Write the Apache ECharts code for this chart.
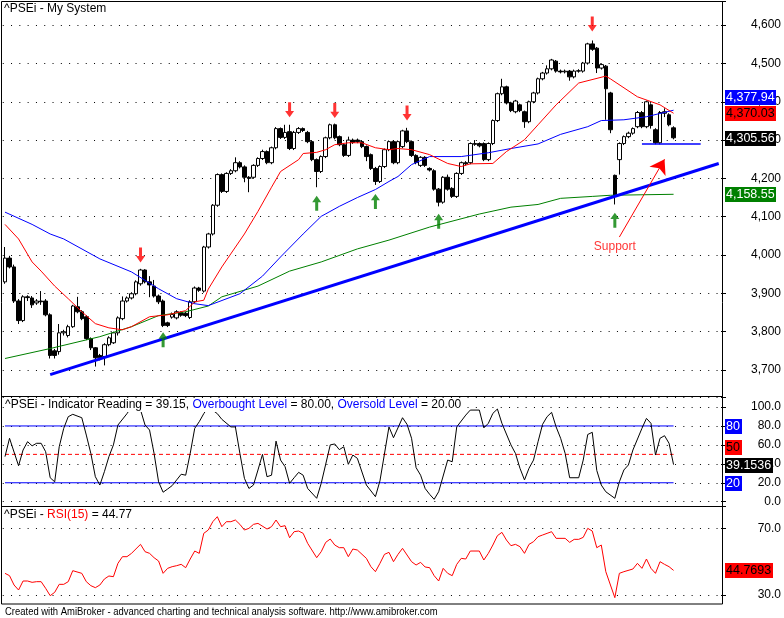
<!DOCTYPE html>
<html lang="en">
  <head>
    <meta charset="UTF-8" />
    <title>^PSEi - My System</title>
    <script src="https://cdn.jsdelivr.net/npm/echarts@6.0.0/dist/echarts.min.js"></script>
    <style>
      html, body { margin: 0; padding: 0; background: #fff; }
    </style>
  </head>
  <body>
    <div id="main" style="width: 784px; height: 618px"></div>
    <script type="text/javascript">
      // daily bars (149 bars)
      const opens = [
        3930, 3992, 3969, 3880, 3829, 3891, 3888, 3875, 3880, 3880,
        3844, 3750, 3748, 3797, 3790, 3813, 3865, 3852, 3839, 3782,
        3758, 3738, 3735, 3766, 3771, 3797, 3834, 3880, 3888, 3899,
        3925, 3961, 3930, 3919, 3893, 3880, 3823, 3838, 3836, 3850,
        3848, 3837, 3878, 3914, 3906, 4021, 4055, 4130, 4210, 4166,
        4213, 4220, 4241, 4230, 4203, 4203, 4234, 4252, 4270, 4241,
        4280, 4330, 4307, 4322, 4278, 4320, 4330, 4320, 4296, 4249,
        4218, 4257, 4306, 4340, 4309, 4288, 4260, 4300, 4300, 4296,
        4283, 4262, 4226, 4192, 4231, 4275, 4296, 4241, 4283, 4324,
        4296, 4260, 4234, 4255, 4226, 4220, 4172, 4138, 4203, 4174,
        4153, 4213, 4241, 4241, 4291, 4291, 4291, 4249, 4291, 4351,
        4421, 4439, 4397, 4374, 4392, 4374, 4348, 4400, 4423, 4460,
        4475, 4486, 4506, 4480, 4478, 4480, 4465, 4480, 4480, 4501,
        4551, 4540, 4488, 4493, 4423, 4208, 4249, 4291, 4309, 4318,
        4335, 4372, 4335, 4392, 4327, 4293, 4370, 4366, 4332
      ];
      const closes = [
        3992, 3969, 3880, 3829, 3891, 3889, 3870, 3880, 3878, 3844,
        3738, 3738, 3797, 3800, 3813, 3867, 3852, 3834, 3782, 3758,
        3732, 3732, 3766, 3784, 3797, 3836, 3880, 3888, 3899, 3930,
        3961, 3930, 3922, 3893, 3878, 3816, 3816, 3845, 3852, 3843,
        3842, 3878, 3914, 3908, 4021, 4055, 4130, 4210, 4166, 4213,
        4220, 4241, 4230, 4203, 4200, 4234, 4252, 4270, 4241, 4280,
        4330, 4307, 4320, 4278, 4320, 4330, 4325, 4296, 4249, 4218,
        4257, 4306, 4340, 4306, 4288, 4260, 4300, 4294, 4296, 4283,
        4257, 4226, 4192, 4231, 4275, 4296, 4241, 4296, 4324, 4296,
        4260, 4241, 4255, 4234, 4222, 4172, 4138, 4203, 4172, 4153,
        4213, 4241, 4238, 4291, 4289, 4285, 4249, 4291, 4351, 4421,
        4439, 4397, 4377, 4402, 4377, 4348, 4400, 4423, 4460, 4475,
        4486, 4509, 4480, 4478, 4480, 4465, 4480, 4481, 4501, 4551,
        4537, 4488, 4497, 4434, 4327, 4153, 4291, 4309, 4318, 4330,
        4372, 4335, 4400, 4338, 4293, 4372, 4374, 4340, 4306
      ];
      const lows = [
        3925, 3965, 3875, 3820, 3825, 3880, 3862, 3870, 3870, 3840,
        3730, 3730, 3740, 3790, 3785, 3810, 3848, 3830, 3778, 3752,
        3709, 3725, 3712, 3762, 3768, 3790, 3830, 3876, 3884, 3895,
        3920, 3926, 3890, 3889, 3872, 3812, 3812, 3834, 3832, 3839,
        3838, 3833, 3874, 3904, 3902, 4017, 4051, 4126, 4162, 4162,
        4209, 4216, 4226, 4190, 4164, 4199, 4230, 4248, 4237, 4237,
        4276, 4303, 4303, 4274, 4274, 4316, 4321, 4292, 4245, 4177,
        4214, 4253, 4302, 4302, 4284, 4256, 4256, 4290, 4292, 4279,
        4245, 4222, 4183, 4188, 4227, 4271, 4237, 4237, 4279, 4292,
        4256, 4237, 4230, 4230, 4218, 4168, 4127, 4134, 4168, 4149,
        4149, 4209, 4234, 4237, 4285, 4281, 4245, 4245, 4287, 4347,
        4417, 4393, 4373, 4370, 4373, 4332, 4344, 4396, 4419, 4456,
        4471, 4482, 4476, 4474, 4474, 4455, 4461, 4476, 4476, 4497,
        4533, 4475, 4484, 4353, 4318, 4132, 4210, 4287, 4305, 4314,
        4331, 4331, 4331, 4330, 4289, 4289, 4360, 4336, 4302
      ];
      const highs = [
        4021, 3998, 3975, 3885, 3895, 3895, 3893, 3885, 3906, 3885,
        3848, 3755, 3820, 3805, 3818, 3870, 3891, 3856, 3843, 3785,
        3760, 3742, 3770, 3788, 3800, 3840, 3892, 3892, 3903, 3934,
        3964, 3963, 3945, 3935, 3897, 3884, 3826, 3850, 3856, 3853,
        3852, 3882, 3918, 3917, 4024, 4058, 4133, 4213, 4213, 4216,
        4224, 4255, 4245, 4234, 4206, 4237, 4255, 4275, 4273, 4283,
        4334, 4333, 4340, 4340, 4324, 4334, 4333, 4324, 4300, 4252,
        4260, 4309, 4343, 4343, 4312, 4291, 4309, 4304, 4304, 4300,
        4286, 4265, 4230, 4234, 4278, 4299, 4300, 4299, 4327, 4332,
        4299, 4263, 4258, 4258, 4229, 4224, 4175, 4206, 4210, 4177,
        4216, 4244, 4245, 4294, 4300, 4294, 4294, 4294, 4354, 4424,
        4460, 4442, 4400, 4405, 4395, 4377, 4403, 4426, 4463, 4478,
        4495, 4512, 4509, 4484, 4484, 4483, 4484, 4485, 4504, 4554,
        4560, 4543, 4500, 4496, 4426, 4210, 4294, 4312, 4322, 4333,
        4376, 4376, 4403, 4396, 4331, 4376, 4383, 4370, 4336
      ];

      // moving averages, [bar, value] at the turning points
      const maFast = [
        [0, 4080], [3, 4042], [6, 3982], [8, 3958], [11, 3919], [14, 3886], [17, 3852],
        [20, 3821], [23, 3810], [26, 3805], [28, 3813], [32, 3839], [36, 3844], [40, 3855],
        [42, 3878], [44, 3882], [45, 3911], [48, 3969], [53, 4055], [56, 4114], [59, 4177],
        [61, 4218], [65, 4249], [66, 4265], [69, 4268], [71, 4275], [73, 4288], [76, 4293],
        [79, 4293], [82, 4280], [85, 4275], [87, 4278], [90, 4275], [94, 4262], [98, 4239],
        [101, 4231], [103, 4238], [108, 4239], [111, 4270], [114, 4293], [115, 4301],
        [118, 4340], [122, 4392], [127, 4449], [133, 4467], [134, 4460], [140, 4413],
        [145, 4392], [148, 4370]
      ];
      const maMid = [
        [0, 4112], [6, 4080], [10, 4055], [13, 4042], [21, 3990], [28, 3956], [34, 3912],
        [38, 3886], [42, 3873], [45, 3868], [52, 3899], [57, 3945], [61, 3995], [66, 4055],
        [70, 4101], [74, 4127], [78, 4150], [82, 4171], [85, 4192], [87, 4205], [90, 4236],
        [94, 4257], [101, 4257], [107, 4267], [112, 4278], [118, 4290], [123, 4315],
        [129, 4335], [132, 4351], [137, 4353], [142, 4361], [148, 4378]
      ];
      const maSlow = [
        [0, 3730], [10, 3756], [21, 3787], [28, 3813], [34, 3842], [40, 3852], [45, 3867],
        [48, 3891], [56, 3919], [63, 3958], [70, 3982], [78, 4016], [85, 4039], [94, 4073],
        [105, 4107], [112, 4125], [118, 4132], [123, 4148], [130, 4153], [134, 4156],
        [148, 4158.55]
      ];
      const trendLine = [[10, 3688], [158, 4239]];
      const supportLine = [[141, 4290], [154, 4290]];
      const sellArrows = [[30, 4000], [63, 4379], [73, 4377], [89, 4371], [130, 4603]];
      const buyArrows = [[35, 3779], [69, 4135], [82, 4140], [96, 4088], [135, 4091]];
      const supportArrow = [[136, 4047], [146, 4250]];
      const supportText = [135, 4023];

      // indicator reading, [bar, value]
      const indicator = [
        [0, 47.6], [1, 67], [3, 38], [4, 54.6], [5, 63.4], [6, 59], [7, 61.7], [8, 61.7],
        [9, 52.8], [10, 25.3], [11, 21], [12, 58], [13, 77.5], [14, 89.8], [15, 92.3],
        [17, 88.7], [18, 70.4], [19, 51], [20, 26.4], [21, 17.6], [22, 31.7], [23, 47.5],
        [24, 60], [25, 81], [27, 93], [28, 100], [30, 97], [31, 81], [32, 75.7], [33, 51],
        [34, 21], [35, 10], [36, 13.4], [37, 17], [38, 23], [39, 29], [40, 28], [41, 51],
        [42, 77.5], [43, 84.5], [44, 93], [45, 100], [47, 93], [48, 87], [50, 79], [51, 79],
        [52, 51], [53, 24.7], [54, 14], [55, 17.6], [56, 33.5], [57, 50], [58, 26.4],
        [59, 28], [60, 64], [61, 44], [62, 37], [63, 19.4], [64, 25.3], [65, 31], [66, 28],
        [67, 14], [69, 3.6], [70, 19.4], [72, 60], [73, 61], [74, 55], [75, 58], [76, 39.5],
        [77, 49.3], [78, 45.8], [80, 17.6], [82, 5.3], [83, 22], [85, 79], [86, 67.6],
        [88, 88.7], [89, 81.7], [90, 67], [91, 36], [92, 28], [93, 14], [94, 7.8], [95, 2.5],
        [96, 10.5], [98, 44], [99, 42.2], [100, 79], [102, 91.5], [103, 96.8], [105, 96.8],
        [106, 78], [107, 82.8], [108, 93.3], [109, 97.9], [110, 82.8], [112, 60], [113, 51],
        [114, 35.3], [115, 23], [116, 35.3], [117, 44], [118, 63.4], [119, 81.7], [120, 89.8],
        [121, 94.4], [122, 79], [123, 67], [124, 51], [125, 25.3], [127, 25.3], [128, 44],
        [129, 71], [130, 73.3], [131, 33], [132, 17.6], [133, 10.5], [135, 3.6], [136, 21],
        [137, 33.5], [138, 38.8], [139, 54.6], [141, 77.5], [142, 88], [143, 82.8],
        [144, 49.3], [145, 67], [146, 69.7], [147, 61.7], [148, 39.15]
      ];
      const levels = [80, 50, 20];

      // RSI(15), [bar, value]
      const rsi = [
        [0, 43], [1, 41.6], [2, 36], [3, 33], [4, 38.4], [5, 38.4], [6, 37.6], [7, 38],
        [8, 38], [9, 34], [10, 29.6], [11, 31.6], [12, 36.4], [13, 36.4], [14, 38], [15, 44.6],
        [17, 43], [18, 38], [19, 35.6], [20, 34.4], [21, 36], [22, 39.6], [23, 41.4],
        [24, 41], [25, 49], [26, 53], [27, 53], [28, 55], [30, 60.4], [31, 56], [32, 55],
        [33, 52.4], [34, 50.4], [35, 43], [36, 46], [37, 47], [38, 47.6], [39, 48.4],
        [40, 46.4], [41, 51.6], [42, 56.4], [43, 55], [44, 67], [45, 69], [46, 74], [47, 77],
        [48, 71], [49, 74], [50, 74], [51, 75], [52, 72.4], [53, 69], [54, 70], [55, 72.4],
        [56, 73], [58, 69.6], [59, 71], [60, 75], [61, 71], [62, 71.6], [63, 64.4], [64, 68],
        [65, 68.4], [66, 67], [67, 61], [69, 52.4], [70, 56], [71, 61.6], [72, 63.6],
        [73, 60], [74, 58.4], [75, 58.4], [76, 53], [77, 57.6], [78, 57], [80, 52], [81, 47],
        [82, 44], [83, 49], [84, 54.4], [85, 55.6], [86, 50], [87, 54.4], [88, 58], [89, 54],
        [90, 50], [91, 48], [92, 49.6], [93, 46.8], [94, 46.4], [95, 41.6], [96, 38.4],
        [97, 46], [98, 43], [99, 41.6], [100, 48.4], [101, 52], [102, 51.6], [103, 56.4],
        [105, 56.4], [106, 51], [107, 55], [108, 60], [109, 65.6], [110, 67.6], [111, 63],
        [112, 59.6], [113, 60.4], [114, 59], [115, 55], [116, 60.4], [117, 62], [118, 65],
        [119, 66], [120, 67], [121, 68], [122, 64], [124, 64], [125, 61.6], [126, 63.4],
        [127, 63.4], [128, 64.6], [129, 70], [130, 68.4], [131, 58.4], [132, 60], [133, 44],
        [135, 28.4], [136, 43], [137, 44], [139, 45.6], [140, 49], [141, 46], [142, 51.6],
        [143, 46], [144, 43], [145, 50], [146, 48.4], [147, 47], [148, 44.77]
      ];

      // tick labels on the right axes
      const priceTicks = [3700, 3800, 3900, 4000, 4100, 4200, 4300, 4400, 4500, 4600];
      const indicatorTicks = [0, 20, 40, 60, 80, 100];
      const rsiTicks = [30, 70];

      // last values shown in the boxes at the right
      const priceTags = [4377.94, 4370.03, 4305.56, 4158.55];
      const indicatorTags = [80, 50, 39.1536, 20];
      const rsiTags = [44.7693];

      const FONT = '"Liberation Sans", Arial, sans-serif';
      const slots = Array.from({ length: 159 }, (_, i) => i);

      const candles = opens.map((o, i) => [o, closes[i], lows[i], highs[i]]);

      const withCommas = (v) => String(v).replace(/\B(?=(\d{3})+(?!\d))/g, ",");

      function xAxisFor(gridIndex) {
        return {
          type: "category", gridIndex: gridIndex, data: slots, boundaryGap: true,
          axisLine: { show: false }, axisTick: { show: false },
          axisLabel: { show: false }, splitLine: { show: false }
        };
      }

      function yAxisFor(gridIndex, min, max, interval, ticks, fmt) {
        return {
          type: "value", gridIndex: gridIndex, position: "right",
          min: min, max: max, interval: interval,
          axisLine: { show: false },
          axisTick: { show: true, length: 5, lineStyle: { color: "#000" } },
          axisLabel: {
            margin: 60, align: "right", color: "#000", fontSize: 12, fontFamily: FONT,
            formatter: (v) => (ticks.includes(v) ? fmt(v) : "")
          },
          splitLine: { show: true, lineStyle: { color: "#000", width: 1, type: [1, 7.3] } }
        };
      }

      const downArrow = "path://M3,0 L6,0 L6,8 L9,8 L4.5,14 L0,8 L3,8 Z";
      const upArrow = "path://M4.5,0 L9,6 L6,6 L6,14 L3,14 L3,6 L0,6 Z";

      const options = {
        animation: false,
        backgroundColor: "#fff",
        grid: [
          { left: 2.74, width: 719.26, top: 1, height: 369 },
          { left: 2.74, width: 719.26, top: 397, height: 104.7 },
          { left: 2.74, width: 719.26, top: 506.7, height: 88.3 }
        ],
        xAxis: [xAxisFor(0), xAxisFor(1), xAxisFor(2)],
        yAxis: [
          yAxisFor(0, 3700, 4663, 100, priceTicks, withCommas),
          yAxisFor(1, 0, 110.6, 20, indicatorTicks, (v) => v.toFixed(1)),
          yAxisFor(2, 30, 83, 40, rsiTicks, (v) => v.toFixed(1))
        ],
        series: [
          {
            type: "candlestick", data: candles, xAxisIndex: 0, yAxisIndex: 0,
            barWidth: 4, clip: false,
            itemStyle: { color: "#fff", color0: "#000", borderColor: "#000", borderColor0: "#000", borderWidth: 1 }
          },
          { type: "line", data: maSlow, symbol: "none", lineStyle: { color: "#008000", width: 1 }, z: 3 },
          { type: "line", data: maMid, symbol: "none", lineStyle: { color: "#0000ff", width: 1 }, z: 3 },
          { type: "line", data: maFast, symbol: "none", lineStyle: { color: "#ff0000", width: 1 }, z: 3 },
          { type: "line", data: trendLine, symbol: "none", clip: false, lineStyle: { color: "#0000ff", width: 3 }, z: 4 },
          { type: "line", data: supportLine, symbol: "none", lineStyle: { color: "#0000ff", width: 1.5 }, z: 4 },
          { type: "scatter", data: sellArrows, symbol: downArrow, symbolSize: [9, 15], itemStyle: { color: "#ff0000" }, z: 5 },
          { type: "scatter", data: buyArrows, symbol: upArrow, symbolSize: [9, 15], itemStyle: { color: "#008000" }, z: 5 },
          {
            type: "scatter", data: [supportText], symbolSize: 0, z: 5,
            label: { show: true, position: "inside", formatter: "Support", color: "#ff0000", fontSize: 12, fontFamily: FONT },
            markLine: {
              silent: true, symbol: ["none", "arrow"], symbolSize: 14,
              label: { show: false },
              lineStyle: { color: "#ff0000", width: 1, type: "solid" },
              data: [[{ coord: supportArrow[0] }, { coord: supportArrow[1] }]]
            }
          },
          // indicator panel
          {
            type: "line", xAxisIndex: 1, yAxisIndex: 1, symbol: "none",
            data: [[0, levels[0]], [148, levels[0]]], lineStyle: { color: "#0000ff", width: 1 }
          },
          {
            type: "line", xAxisIndex: 1, yAxisIndex: 1, symbol: "none",
            data: [[0, levels[2]], [148, levels[2]]], lineStyle: { color: "#0000ff", width: 1 }
          },
          {
            type: "line", xAxisIndex: 1, yAxisIndex: 1, symbol: "none",
            data: [[0, levels[1]], [148, levels[1]]], lineStyle: { color: "#ff0000", width: 1, type: [4, 3] }
          },
          {
            type: "line", xAxisIndex: 1, yAxisIndex: 1, symbol: "none", data: indicator,
            lineStyle: { color: "#000", width: 1 }, z: 3
          },
          // RSI panel
          {
            type: "line", xAxisIndex: 2, yAxisIndex: 2, symbol: "none", data: rsi, clip: false,
            lineStyle: { color: "#ff0000", width: 1 }, z: 3
          }
        ]
      };

      const myChart = echarts.init(document.getElementById("main"), null, { renderer: "canvas" });
      myChart.setOption(options);

      // value boxes on the price scale, placed through the axes
      function tag(axis, value, text, bg, fg, width, dy) {
        const y = myChart.convertToPixel({ yAxisIndex: axis }, value) + dy;
        return [
          { type: "rect", shape: { x: 725, y: Math.round(y) - 7, width: width, height: 15 }, style: { fill: bg }, z: 100 },
          {
            type: "text", x: 726, y: Math.round(y) + 0.5, z: 101,
            style: { text: text, fill: fg, font: "12.5px " + FONT, verticalAlign: "middle", align: "left" }
          }
        ];
      }

      const graphics = [].concat(
        tag(0, priceTags[0], withCommas(priceTags[0].toFixed(2)), "#0000ff", "#fff", 51, -13),
        tag(0, priceTags[1], withCommas(priceTags[1].toFixed(2)), "#ff0000", "#000", 51, 0),
        tag(0, priceTags[2], withCommas(priceTags[2].toFixed(2)), "#000", "#fff", 51, 0),
        tag(0, priceTags[3], withCommas(priceTags[3].toFixed(2)), "#008000", "#fff", 51, 0),
        tag(1, indicatorTags[0], String(indicatorTags[0]), "#0000ff", "#fff", 17, 0),
        tag(1, indicatorTags[1], String(indicatorTags[1]), "#ff0000", "#000", 17, -7),
        tag(1, indicatorTags[2], indicatorTags[2].toFixed(4), "#000", "#fff", 48, 0),
        tag(1, indicatorTags[3], String(indicatorTags[3]), "#0000ff", "#fff", 17, 0),
        tag(2, rsiTags[0], rsiTags[0].toFixed(4), "#ff0000", "#000", 48, 0)
      );

      // frame and panel separators
      const frame = { stroke: "#000", lineWidth: 1, fill: null };
      graphics.push(
        { type: "rect", shape: { x: 1.5, y: 1.5, width: 721, height: 602.5 }, style: frame, z: 50 },
        { type: "line", shape: { x1: 1, y1: 396.5, x2: 722.5, y2: 396.5 }, style: frame, z: 50 },
        { type: "line", shape: { x1: 1, y1: 506.5, x2: 722.5, y2: 506.5 }, style: frame, z: 50 }
      );

      // panel titles (on white, they hide the lines under them) and footer
      const rich = (color) => ({ fill: color, fontSize: 12, fontFamily: FONT, backgroundColor: "#fff" });
      graphics.push(
        {
          type: "text", x: 4, y: 3, z: 60,
          style: { text: "^PSEi - My System", fill: "#000", font: "12px " + FONT, verticalAlign: "top", backgroundColor: "#fff" }
        },
        {
          type: "text", x: 4, y: 399, z: 60,
          style: {
            text: "{k|^PSEi - Indicator Reading = 39.15, }{b|Overbought Level}{k| = 80.00, }{b|Oversold Level}{k| = 20.00}",
            font: "12px " + FONT, verticalAlign: "top", backgroundColor: "#fff", padding: [0, 1, 1, 1],
            rich: { k: rich("#000"), b: rich("#0000ff") }
          }
        },
        {
          type: "text", x: 4, y: 509, z: 60,
          style: {
            text: "{k|^PSEi - }{r|RSI(15)}{k| = 44.77}",
            font: "12px " + FONT, verticalAlign: "top", backgroundColor: "#fff",
            rich: { k: rich("#000"), r: rich("#ff0000") }
          }
        },
        {
          type: "text", x: 5, y: 606, z: 60, scaleX: 0.86,
          style: {
            text: "Created with AmiBroker - advanced charting and technical analysis software. http://www.amibroker.com",
            fill: "#000", font: "11px " + FONT, verticalAlign: "top"
          }
        }
      );

      myChart.setOption({ graphic: graphics });
    </script>
  </body>
</html>
